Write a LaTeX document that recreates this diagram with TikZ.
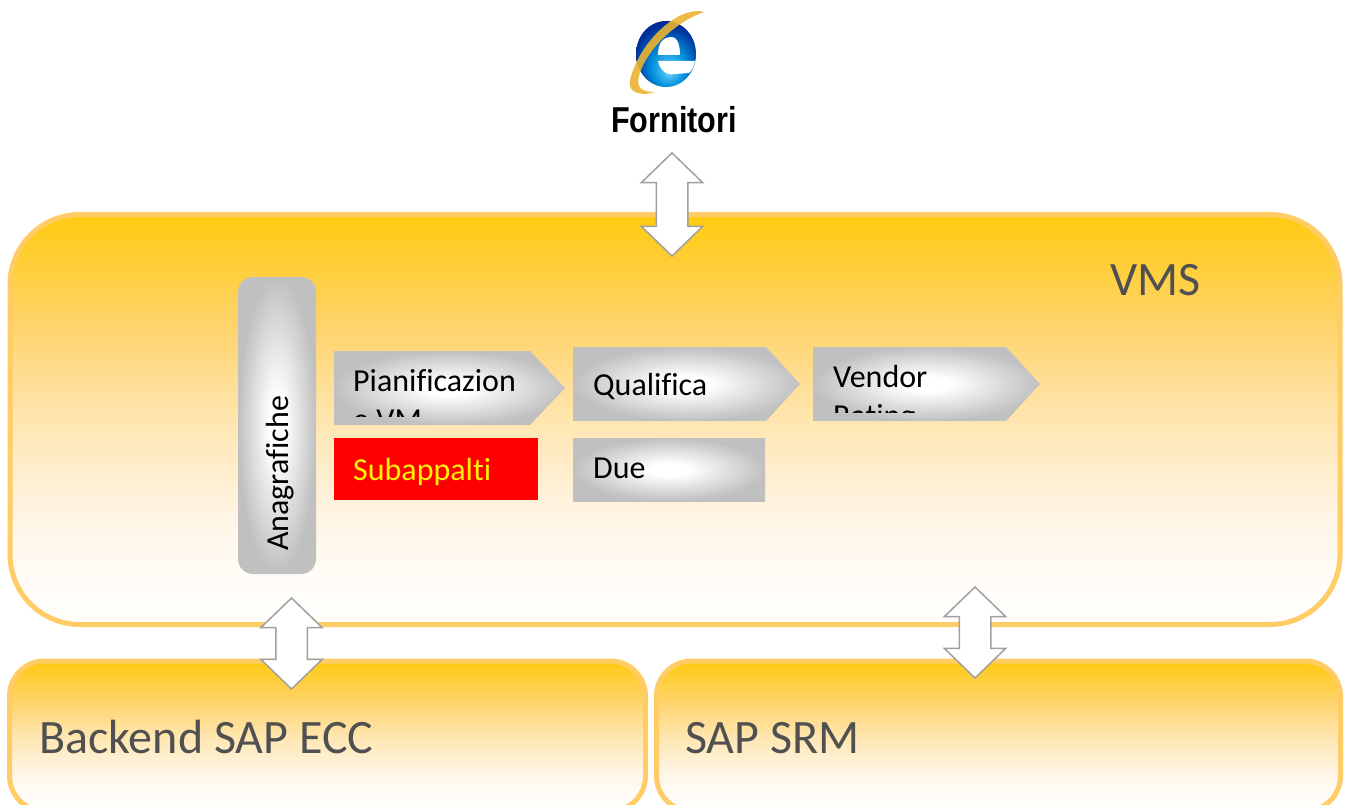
\documentclass[tikz,border=0pt]{standalone}
\usepackage{fontspec}
\setmainfont{Carlito}[Ligatures=NoCommon]
\newfontfamily\labelfont{Liberation Sans}
\usetikzlibrary{shapes.arrows}
\definecolor{boxtop}{RGB}{255,202,16}
\definecolor{boxhigh}{RGB}{255,212,110}
\definecolor{boxmid}{RGB}{255,230,176}
\definecolor{boxlow}{RGB}{255,245,230}
\definecolor{boxpale}{RGB}{255,252,248}
\definecolor{boxend}{RGB}{255,254,252}
\definecolor{boxline}{RGB}{255,204,102}
\definecolor{greybox}{RGB}{192,192,192}
\definecolor{titlegrey}{RGB}{80,80,80}
\definecolor{arrowgrey}{RGB}{160,160,160}
\definecolor{ring}{RGB}{235,180,50}
\pgfdeclareverticalshading{boxfade}{100bp}{
  color(0bp)=(boxend);
  color(25bp)=(boxend);
  color(30bp)=(boxpale);
  color(38bp)=(boxlow);
  color(50bp)=(boxmid);
  color(61bp)=(boxhigh);
  color(75bp)=(boxtop);
  color(100bp)=(boxtop)}
\pgfdeclareradialshading{glow}{\pgfpoint{0bp}{0bp}}{
  color(0bp)=(white);
  color(5bp)=(white);
  color(25bp)=(greybox);
  color(50bp)=(greybox)}
\pgfdeclareradialshading{ieball}{\pgfpoint{3bp}{-14bp}}{
  color(0bp)=(cyan!70!blue!60!white);
  color(15bp)=(blue!35!cyan!85!black);
  color(28bp)=(blue!70!cyan!60!black);
  color(50bp)=(blue!50!black)}
\begin{document}
\begin{tikzpicture}[
  x=1pt,
  y=-1pt,
  bigbox/.style={
    rounded corners=#1,
    shade,
    shading=boxfade,
    draw=boxline,
    line width=5pt,
    outer sep=0pt
  },
  updown/.style={
    double arrow,
    rotate=90,
    fill=white,
    draw=arrowgrey,
    line width=1.5pt,
    inner xsep=0pt,
    inner ysep=15pt,
    outer sep=0pt,
    double arrow head extend=15pt,
    double arrow tip angle=92
  },
  title/.style={
    anchor=base west,
    inner sep=0pt,
    text=titlegrey,
    font=\fontsize{48}{58}\selectfont
  },
  item/.style={
    anchor=base west,
    inner sep=0pt,
    align=left,
    font=\fontsize{32}{39}\selectfont
  }
]
\clip (0,0) rectangle (1346,805);
\fill[white] (0,0) rectangle (1346,805);
\node[bigbox=35pt,minimum width=636pt,minimum height=150pt] (ecc) at (327.5,736) {};
\node[bigbox=35pt,minimum width=684pt,minimum height=150pt] (srm) at (998.5,736) {};
\node[bigbox=70pt,minimum width=1330pt,minimum height=410pt] (vms) at (675,419.5) {};
\node[title] (vmstext) at (1110,295) {VMS};
\node[title] (ecctext) at (39,753) {Backend SAP ECC};
\node[title] (srmtext) at (685,753) {SAP SRM};
\shade[shading=glow,rounded corners=15pt] (238,277) rectangle (316,574);
\shade[shading=glow] (334,351) -- (530,351) -- (565,388) -- (530,425) -- (334,425) -- cycle;
\shade[shading=glow] (573,347) -- (766,347) -- (800,384) -- (766,421) -- (573,421) -- cycle;
\shade[shading=glow] (813,347) -- (1006,347) -- (1040,384) -- (1006,421) -- (813,421) -- cycle;
\shade[shading=glow] (573,438) rectangle (765,501);
\fill[red] (334,438) rectangle (538,500);
\node[item,rotate=90] (anag) at (288,551) {Anagrafiche};
\begin{scope}
\clip (334,351) rectangle (530,416);
\node[item] (pian) at (353,430) {Pianificazion\\e VM};
\end{scope}
\node[item] (qual) at (593,395) {Qualifica};
\begin{scope}
\clip (813,347) rectangle (1006,412);
\node[item] (vend) at (833,426) {Vendor\\Rating};
\end{scope}
\node[item,text=yellow] (suba) at (353,480) {Subappalti};
\node[item] (due) at (593,478) {Due};
\node[updown,minimum height=103pt] (top) at (672,204.5) {};
\node[updown,minimum height=91pt] (left) at (291.5,643.5) {};
\node[updown,minimum height=91pt] (right) at (975,632.5) {};
\shade[shading=ieball] (666,54) ellipse (30pt and 33pt);
\fill[white] (658,55) .. controls (658,42) and (664,37) .. (671,37) .. controls (678,37) and (680,46) .. (680,55) -- cycle;
\fill[white] (658,61) -- (695,61) .. controls (694,67) and (692,70) .. (689,73) -- (675,74) .. controls (666,76) and (660,70) .. (658,61) -- cycle;
\fill[ring,opacity=.9] (704,12) .. controls (680,5) and (640,40) .. (630,80) .. controls (627,92) and (640,97) .. (655,92) .. controls (642,92) and (636,88) .. (639,76) .. controls (646,50) and (675,22) .. (704,12) -- cycle;
\node[anchor=base,inner sep=0pt,xscale=.85,font=\labelfont\bfseries\fontsize{36}{43}\selectfont] (forn) at (674,133) {Fornitori};
\end{tikzpicture}
\end{document}
